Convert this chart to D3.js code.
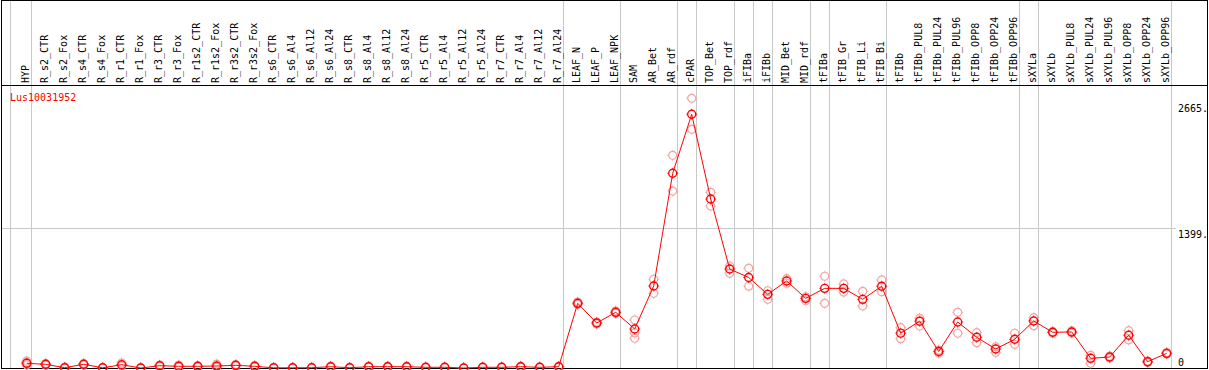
<!DOCTYPE html>
<html>
<head>
<meta charset="utf-8">
<script src="https://cdn.jsdelivr.net/npm/d3@7"></script>
<style>
  html, body { margin: 0; padding: 0; background: #fff; }
  svg { display: block; font-family: "DejaVu Sans Mono", monospace; font-size: 10px; }
</style>
</head>
<body>
<div id="chart"></div>
<script>
// gene and sample names
const gene = 'Lus10031952';

const samples = [
  'HYP', 'R_s2_CTR', 'R_s2_Fox', 'R_s4_CTR', 'R_s4_Fox', 'R_r1_CTR', 'R_r1_Fox',
  'R_r3_CTR', 'R_r3_Fox', 'R_r1s2_CTR', 'R_r1s2_Fox', 'R_r3s2_CTR', 'R_r3s2_Fox',
  'R_s6_CTR', 'R_s6_Al4', 'R_s6_Al12', 'R_s6_Al24', 'R_s8_CTR', 'R_s8_Al4',
  'R_s8_Al12', 'R_s8_Al24', 'R_r5_CTR', 'R_r5_Al4', 'R_r5_Al12', 'R_r5_Al24',
  'R_r7_CTR', 'R_r7_Al4', 'R_r7_Al12', 'R_r7_Al24', 'LEAF_N', 'LEAF_P', 'LEAF_NPK',
  'SAM', 'AR_Bet', 'AR_rdf', 'cPAR', 'TOP_Bet', 'TOP_rdf', 'iFIBa', 'iFIBb',
  'MID_Bet', 'MID_rdf', 'tFIBa', 'tFIB_Gr', 'tFIB_Li', 'tFIB_Bi', 'tFIBb',
  'tFIBb_PUL8', 'tFIBb_PUL24', 'tFIBb_PUL96', 'tFIBb_OPP8', 'tFIBb_OPP24',
  'tFIBb_OPP96', 'sXYLa', 'sXYLb', 'sXYLb_PUL8', 'sXYLb_PUL24', 'sXYLb_PUL96',
  'sXYLb_OPP8', 'sXYLb_OPP24', 'sXYLb_OPP96'
];

// mean expression per sample
const means = [
  47, 37, 3, 37, 2, 33, 0, 23, 17, 17, 20, 27, 17,
  2, 2, 3, 13, 3, 13, 13, 13, 7, 7, 0, 7,
  7, 13, 7, 13, 648, 451, 558,
  391, 822, 1951, 2542, 1693, 992, 907, 738,
  872, 698, 798, 798, 688, 819, 349,
  469, 165, 461, 308, 190,
  288, 471, 358, 361, 97, 110,
  328, 63, 147
];

// replicate values per sample
const reps = [
  [70, 30, 55], [45, 28], [10, 0], [45, 30], [5, 0], [50, 20], [0, 2],
  [30, 18], [30, 8], [22, 12], [38, 8], [35, 20], [25, 10],
  [4, 0], [4, 0], [6, 0], [18, 8], [6, 0], [18, 8],
  [18, 8], [18, 8], [10, 4], [10, 4], [2, 0], [10, 4],
  [10, 4], [18, 8], [10, 4], [18, 8], [660, 636], [460, 442], [570, 546],
  [481, 351, 298], [889, 748], [2131, 1773], [2702, 2391], [1760, 1623], [1022, 949], [999, 820], [774, 688],
  [895, 849], [714, 674], [919, 648], [842, 761], [768, 621], [882, 764], [404, 294],
  [498, 421], [180, 150], [558, 348], [354, 254], [213, 157],
  [348, 237], [504, 424], [365, 350], [372, 350], [127, 47], [120, 100],
  [374, 281], [70, 55], [155, 140]
];

// separators drawn after these sample indices
const groupEnds = [-1, 0, 28, 31, 34, 35, 37, 38, 39, 41, 42, 45, 52, 53, 60];

// labelled y values
const yTicks = [0, 1399, 2665];

const W = 1209, H = 370;
const headerY = 85.5, plotBottom = 368;

const svg = d3.select('#chart').append('svg')
  .attr('width', W).attr('height', H);

const x = d3.scalePoint().domain(d3.range(samples.length)).range([26.7, 1166.7]);
const y = d3.scaleLinear().domain([0, 2665]).range([plotBottom, 102]);

// horizontal grid line at middle tick
svg.append('line')
  .attr('x1', 1).attr('x2', 1176)
  .attr('y1', Math.round(y(1399)) + 0.5).attr('y2', Math.round(y(1399)) + 0.5)
  .attr('stroke', '#c8c8c8');

// vertical group separators
svg.selectAll('.sep')
  .data(groupEnds)
  .enter().append('line')
  .attr('class', 'sep')
  .attr('x1', d => Math.round(d < 0 ? x(0) - 16.4 : x(d) + 4) + 0.5)
  .attr('x2', d => Math.round(d < 0 ? x(0) - 16.4 : x(d) + 4) + 0.5)
  .attr('y1', 0).attr('y2', plotBottom)
  .attr('stroke', '#c8c8c8');

// frame
svg.append('rect')
  .attr('x', 1.5).attr('y', 0.5).attr('width', 1206).attr('height', 368)
  .attr('fill', 'none').attr('stroke', '#000');
svg.append('line')
  .attr('x1', 1).attr('x2', 1208).attr('y1', headerY).attr('y2', headerY)
  .attr('stroke', '#000');

// sample labels
svg.selectAll('.lab')
  .data(samples)
  .enter().append('text')
  .attr('class', 'lab')
  .attr('transform', (d, i) => `translate(${Math.round(x(i) + 2)},83) rotate(-90)`)
  .attr('fill', '#000')
  .text(d => d);

// y labels
svg.selectAll('.ylab')
  .data(yTicks)
  .enter().append('text')
  .attr('class', 'ylab')
  .attr('x', 1178)
  .attr('y', d => d === 0 ? y(d) - 2.5 : y(d) + 9.5)
  .text(d => d === 0 ? '0' : d + '.');

svg.append('text')
  .attr('x', 10).attr('y', 100.5)
  .attr('fill', '#ff0000')
  .text(gene);

function marker(sel, color, sw) {
  sel.append('circle')
    .attr('r', 4)
    .attr('fill', 'none')
    .attr('stroke', color)
    .attr('stroke-width', sw);
  [[0, -1], [0, 1], [-1, 0], [1, 0]].forEach(([dx, dy]) => {
    sel.append('line')
      .attr('x1', dx * 4).attr('y1', dy * 4)
      .attr('x2', dx * 5.5).attr('y2', dy * 5.5)
      .attr('stroke', color)
      .attr('stroke-width', 0.8);
  });
}

// replicates
const repPts = [];
reps.forEach((r, i) => r.forEach(v => repPts.push({ i, v })));
svg.selectAll('.rep')
  .data(repPts)
  .enter().append('g')
  .attr('class', 'rep')
  .attr('transform', d => `translate(${x(d.i)},${y(d.v)})`)
  .call(marker, '#f4a4a4', 1.2);

// mean line
svg.append('path')
  .datum(means)
  .attr('fill', 'none')
  .attr('stroke', '#ff0000')
  .attr('stroke-width', 1)
  .attr('d', d3.line().x((d, i) => x(i)).y(d => y(d)));

svg.selectAll('.mean')
  .data(means)
  .enter().append('g')
  .attr('class', 'mean')
  .attr('transform', (d, i) => `translate(${x(i)},${y(d)})`)
  .call(marker, '#ff0000', 1.4);
</script>
</body>
</html>
